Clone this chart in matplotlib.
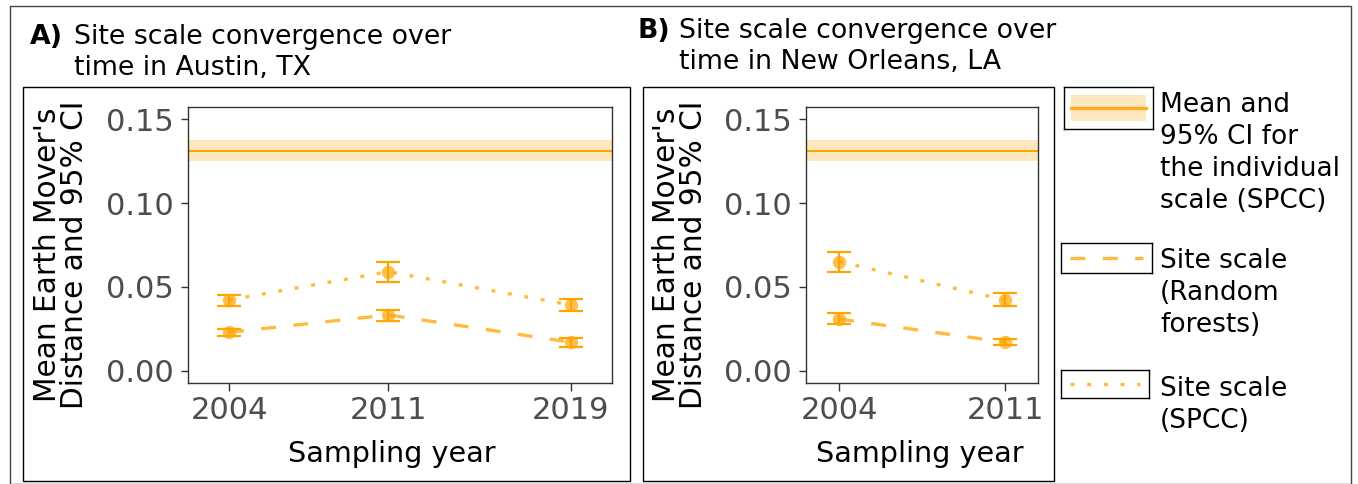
import matplotlib
matplotlib.use("Agg")
import matplotlib.pyplot as plt
from matplotlib.patches import Rectangle

W, H, DPI = 1358, 484, 100

# --- data ---
years_a = [2004, 2011, 2019]
rf_a = [0.0229, 0.0333, 0.0170]
rf_a_lo = [0.0205, 0.0299, 0.0143]
rf_a_hi = [0.0249, 0.0362, 0.0193]
spcc_a = [0.0422, 0.0591, 0.0392]
spcc_a_lo = [0.0388, 0.0530, 0.0356]
spcc_a_hi = [0.0452, 0.0649, 0.0428]

years_b = [2004, 2011]
rf_b = [0.0309, 0.0170]
rf_b_lo = [0.0279, 0.0153]
rf_b_hi = [0.0343, 0.0191]
spcc_b = [0.0651, 0.0422]
spcc_b_lo = [0.0589, 0.0388]
spcc_b_hi = [0.0710, 0.0462]

indiv_mean = 0.1311
indiv_lo = 0.1252
indiv_hi = 0.1377

yticks = [0.00, 0.05, 0.10, 0.15]
ytick_labels = ["0.00", "0.05", "0.10", "0.15"]

title_a = ["Site scale convergence over", "time in Austin, TX"]
title_b = ["Site scale convergence over", "time in New Orleans, LA"]
ylab = "Mean Earth Mover's\nDistance and 95% CI"
xlab = "Sampling year"
legend_labels = [
    ["Mean and", "95% CI for", "the individual", "scale (SPCC)"],
    ["Site scale", "(Random", "forests)"],
    ["Site scale", "(SPCC)"],
]

ORANGE = "#FFA500"
DASHED = (0, (4.5, 5.2))
DOTTED = (0, (1.2, 3.8))

plt.rcParams["font.family"] = "DejaVu Sans"
fig = plt.figure(figsize=(W / DPI, H / DPI), dpi=DPI)


def fx(x):
    return x / W


def fy(y):
    return 1 - y / H


def box(x0, y0, x1, y1, **kw):
    fig.patches.append(Rectangle((fx(x0), fy(y1)), fx(x1) - fx(x0), fy(y0) - fy(y1),
                                 transform=fig.transFigure, fill=False, **kw))


def panel(left, right, years, rf, rf_lo, rf_hi, spcc, spcc_lo, spcc_hi, xlim):
    ax = fig.add_axes([fx(left), fy(382.7), fx(right) - fx(left), fy(107.3) - fy(382.7)])
    ax.axhspan(indiv_lo, indiv_hi, color=ORANGE, alpha=0.25, lw=0)
    ax.axhline(indiv_mean, color=ORANGE, lw=1.5)
    for vals, lo, hi, ls in [(rf, rf_lo, rf_hi, DASHED), (spcc, spcc_lo, spcc_hi, DOTTED)]:
        ax.plot(years, vals, ls=ls, lw=2.4, color=ORANGE, alpha=0.75, dash_capstyle="butt")
        err = [[v - l for v, l in zip(vals, lo)], [h - v for v, h in zip(vals, hi)]]
        ax.errorbar(years, vals, yerr=err, fmt="none", ecolor=ORANGE,
                    elinewidth=1.6, capsize=8.3, capthick=1.6)
        ax.plot(years, vals, "o", ms=9.6, color=ORANGE, alpha=0.7, mec="none")
    ax.set_xlim(*xlim)
    ax.set_ylim(-0.00716, 0.15716)
    ax.set_xticks(years)
    ax.set_yticks(yticks)
    ax.set_yticklabels(ytick_labels)
    ax.tick_params(length=5.4, width=1.0, color="#333333", labelsize=22,
                   labelcolor="#4D4D4D", pad=4.5)
    for s in ax.spines.values():
        s.set_color("#333333")
        s.set_linewidth(1.0)
    return ax


panel(188, 611.7, years_a, rf_a, rf_a_lo, rf_a_hi, spcc_a, spcc_a_lo, spcc_a_hi, (2002.2, 2020.8))
panel(806, 1038.3, years_b, rf_b, rf_b_lo, rf_b_hi, spcc_b, spcc_b_lo, spcc_b_hi, (2002.6, 2012.4))

# axis titles
for xc in (61, 680):
    fig.text(fx(xc), fy(255), ylab, rotation=90, ha="center", va="center",
             fontsize=21.3, linespacing=0.88)
fig.text(fx(392), fy(462), xlab, ha="center", va="baseline", fontsize=20.6)
fig.text(fx(920), fy(462), xlab, ha="center", va="baseline", fontsize=20.6)

# panel titles
for tag, lines, x_tag, x_txt, base in [("A)", title_a, 30, 74, 44),
                                       ("B)", title_b, 637, 679, 38)]:
    fig.text(fx(x_tag), fy(base), tag, fontsize=19.3, fontweight="bold", va="baseline")
    for i, line in enumerate(lines):
        fig.text(fx(x_txt), fy(base + 31.5 * i), line, fontsize=19.3, va="baseline")

# frames
box(10, 6, 1351, 483.5, ec="#444444", lw=1.0)
box(22.7, 86.7, 630, 481, ec="black", lw=1.0)
box(642.5, 86.7, 1054, 481, ec="black", lw=1.0)

# legend keys
keys = [(1064, 87, 1153, 129, "band"), (1061, 243, 1152, 273, DASHED),
        (1061, 370, 1149, 398, DOTTED)]
for x0, y0, x1, y1, kind in keys:
    kax = fig.add_axes([fx(x0), fy(y1), fx(x1) - fx(x0), fy(y0) - fy(y1)])
    kax.set_xlim(0, 1)
    kax.set_ylim(0, 1)
    kax.set_xticks([])
    kax.set_yticks([])
    for s in kax.spines.values():
        s.set_color("black")
        s.set_linewidth(1.0)
    if kind == "band":
        kax.axhspan(0.19, 0.81, xmin=0.08, xmax=0.92, color=ORANGE, alpha=0.25, lw=0)
        kax.plot([0.08, 0.92], [0.5, 0.5], color=ORANGE, lw=2.4, alpha=0.85)
    else:
        kax.plot([0.1, 0.9], [0.5, 0.5], color=ORANGE, lw=2.4, ls=kind, alpha=0.75,
                 dash_capstyle="butt")

for lines, base in zip(legend_labels, [112, 268, 396]):
    for i, line in enumerate(lines):
        fig.text(fx(1160), fy(base + 32 * i), line, fontsize=19, va="baseline")

fig.savefig("out.png", dpi=DPI)
